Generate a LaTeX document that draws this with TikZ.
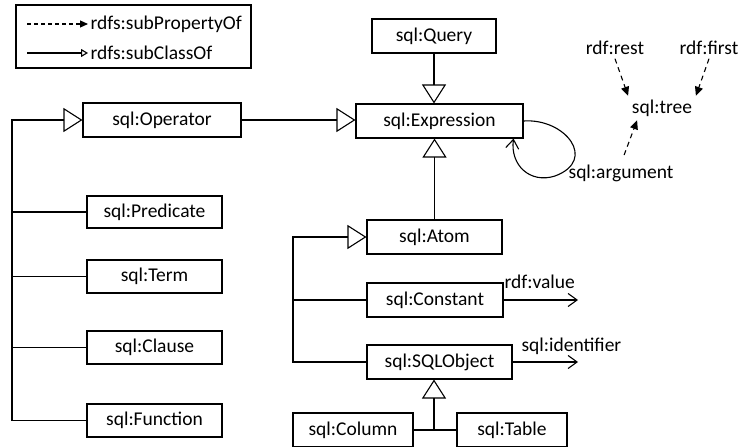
\documentclass[tikz,border=0pt]{standalone}
\usepackage{fontspec}
\setmainfont{Carlito}
\usetikzlibrary{arrows.meta}

\begin{document}
\begin{tikzpicture}[x=1pt,y=-1pt,line width=1.1pt,
  font=\fontsize{19.5}{23}\selectfont,
  gen/.style={-{Triangle[open,length=19pt,width=24pt]}},
  prop/.style={dash pattern=on 5pt off 4pt,-{Triangle[length=9pt,width=8pt]}},
  rel/.style={-{Straight Barb[length=9pt,width=13pt]}}]
\useasboundingbox (0,0) rectangle (740,447);

% legend
\draw (16,5) rectangle (251,68);
\coordinate (propstart) at (27,24);
\coordinate (classstart) at (27,53);
\node[anchor=west,inner sep=2pt] (subprop) at (88,24) {rdfs:subPropertyOf};
\node[anchor=west,inner sep=2pt] (subclass) at (88,53) {rdfs:subClassOf};
\draw[dash pattern=on 4pt off 3pt,-{Triangle[length=8pt,width=7pt]}] (propstart) -- (subprop.west);
\draw[-{Triangle[open,length=7pt,width=8pt]}] (classstart) -- (subclass.west);

\begin{scope}[every node/.style={rectangle,draw,inner sep=0pt,minimum height=34pt}]
\node[minimum width=124pt] (query) at (434,36) {sql:Query};
\node[minimum width=167pt] (expr) at (439.5,121) {sql:Expression};
\node[minimum width=158pt] (op) at (162,120) {sql:Operator};
\node[minimum width=135pt,minimum height=32pt] (pred) at (154.5,212) {sql:Predicate};
\node[minimum width=135pt,minimum height=33pt] (term) at (154.5,276.5) {sql:Term};
\node[minimum width=135pt,minimum height=33pt] (clause) at (154.5,347.5) {sql:Clause};
\node[minimum width=135pt,minimum height=33pt] (func) at (154.5,420.5) {sql:Function};
\node[minimum width=135pt] (atom) at (434.5,237) {sql:Atom};
\node[minimum width=136pt] (const) at (435,300) {sql:Constant};
\node[minimum width=145pt] (sqlobj) at (439.5,362) {sql:SQLObject};
\node[minimum width=120pt] (column) at (353,430) {sql:Column};
\node[minimum width=110pt] (table) at (512,430) {sql:Table};
\end{scope}

% plain labels
\node (rest) at (615,48) {rdf:rest};
\node (first) at (709,48) {rdf:first};
\node (tree) at (662,108) {sql:tree};
\node (arg) at (621,173) {sql:argument};
\node[anchor=base west,inner sep=0pt] (value) at (504,288) {rdf:value};
\node[anchor=base west,inner sep=0pt] (ident) at (521,351) {sql:identifier};

\coordinate (opbus) at (12,120);
\coordinate (atombus) at (293,237);
\coordinate (objbus) at (434,430);
\coordinate (valueend) at (578,300);
\coordinate (identend) at (578,362);

% subclass links
\draw[gen] (query.south) -- (query.south |- expr.north);
\draw[gen] (op.east) -- (op.east -| expr.west);
\draw[gen] (atom.north) -- (atom.north |- expr.south);

\draw[gen] (func.west) -| (opbus) -- (op.west);
\draw (pred.west) -- (pred.west -| opbus);
\draw (term.west) -- (term.west -| opbus);
\draw (clause.west) -- (clause.west -| opbus);

\draw[gen] (sqlobj.west) -| (atombus) -- (atom.west);
\draw (const.west) -- (const.west -| atombus);

\draw (column.east) -- (table.west);
\draw[gen] (objbus) -- (objbus |- sqlobj.south);

% properties
\draw[rel] (const.east) -- (valueend);
\draw[rel] (sqlobj.east) -- (identend);
\draw[rel] (expr.east) .. controls (565,118) and (598,160) .. (555,176)
  .. controls (530,184) and (510,165) .. ([xshift=-10pt]expr.south east);

\draw[prop] (rest.south) -- (tree.north west);
\draw[prop] (first.south) -- (tree.north east);
\draw[prop,shorten <=6pt] ([xshift=1pt]arg.north) -- ([xshift=9pt]tree.south west);
\end{tikzpicture}
\end{document}
